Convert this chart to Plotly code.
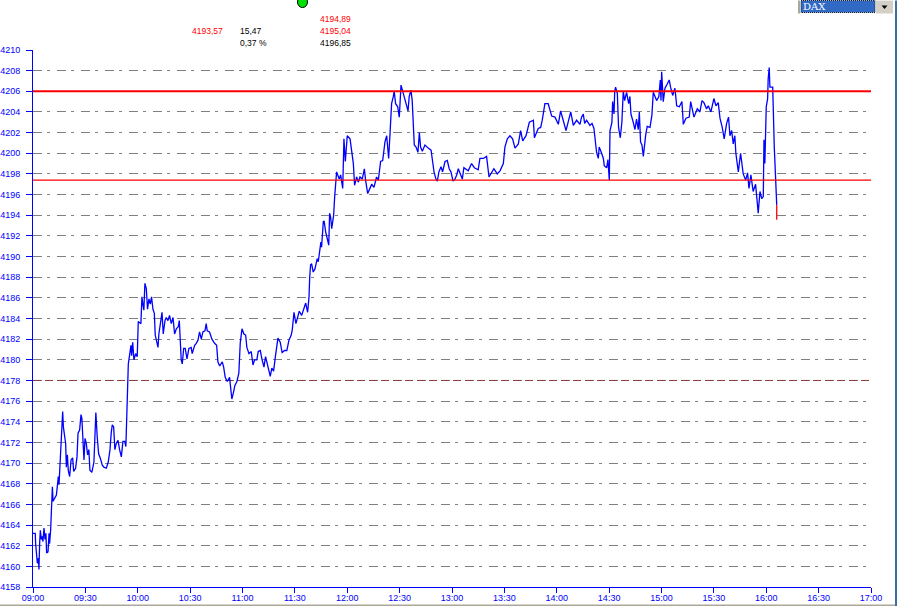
import plotly.graph_objects as go

# minutes after 09:00 and DAX level
minutes = [
    0, 1.3, 1.5, 1.9, 2.5, 3.1, 3.4, 3.8, 4.2, 4.8, 5.3, 5.7, 6.3, 6.9, 7.4, 7.8, 8.6, 9.2, 9.5, 10.1,
    10.5, 11.1, 11.5, 12.4, 13.4, 13.9, 14.5, 14.9, 15.5, 16.0, 16.6, 17.0, 17.4, 18, 18.7, 19.1, 19.7, 20.2, 21, 21.8,
    22.7, 23.3, 24.4, 25.2, 25.8, 26.7, 27.5, 28, 28.6, 29.2, 29.8, 30.5, 31.3, 32, 32.6, 33.7, 34.9, 35.4, 36, 36.8,
    37.6, 38.5, 39.7, 40.6, 42, 43.1, 44.1, 44.8, 45.4, 46.2, 46.9, 47.7, 48.7, 49.6, 50.6, 51.5, 52.5, 53.2, 53.6, 54.2,
    54.6, 55.2, 56.1, 56.5, 57.1, 57.8, 58.8, 59.7, 60.3, 61.8, 62.4, 63, 63.5, 64.1, 64.9, 65.6, 66.4, 67.2, 67.9, 68.7,
    69.5, 70, 70.8, 71.6, 72.1, 72.9, 73.9, 74.6, 75.6, 76.3, 77.3, 78.2, 79.2, 80.2, 81.1, 82.1, 83.2, 83.8, 84.4, 84.9,
    85.5, 86.3, 87.2, 88.2, 89.3, 90.6, 91.2, 92.6, 93.5, 94.5, 95.4, 96.4, 97.3, 98.5, 99.2, 99.8, 101.1, 102.5, 104, 105.2,
    105.9, 106.9, 108.4, 109.2, 110.1, 111.3, 112.6, 113.2, 113.9, 114.9, 115.6, 116.8, 117.9, 118.7, 119.7, 120.8, 121.8, 122.5, 123.7, 125,
    126, 126.9, 128.2, 129, 130.2, 131.1, 132.3, 133.2, 134.7, 135.9, 136.8, 137.8, 138.9, 140.3, 141.6, 142.7, 144.1, 145.4, 146.6, 147.9,
    148.5, 149.5, 150.6, 151.4, 152.5, 153.9, 155.4, 156.2, 157.3, 158.1, 158.5, 159, 159.6, 160.5, 161.5, 162.8, 163.4, 164.2, 164.9, 165.3,
    166.3, 166.8, 167.6, 168.6, 169.4, 169.9, 170.5, 171.1, 172.2, 172.8, 173.9, 175.4, 176.2, 177.4, 178.1, 178.9, 180, 181.6, 182.5, 183.5,
    184.2, 185.4, 186.3, 187.3, 188.6, 189.8, 190.5, 191.7, 193, 194, 195.3, 196.8, 197.8, 199.1, 200.3, 201.6, 202.6, 203.7, 204.5, 205.4,
    206.4, 206.9, 207.7, 208.9, 209.8, 210.8, 212.1, 213.5, 214.8, 215.5, 216.5, 217.2, 217.8, 218.4, 219.4, 220.5, 221.3, 222, 223, 224.5,
    226.4, 228, 228.9, 229.7, 230.8, 231.6, 232.5, 233.7, 234.6, 236, 237.3, 238.4, 239.4, 240.6, 241.7, 242.7, 243.6, 245.9, 246.8, 249.3,
    251.2, 252.8, 255, 256, 257.9, 259.8, 261.2, 262.7, 264, 265.9, 267.5, 269.4, 270.3, 271.7, 273.2, 274.7, 276.1, 278, 279.3, 280.5,
    282.4, 284.3, 286.6, 287.2, 289.4, 290.8, 291.7, 293.2, 295.1, 297.1, 299, 300.9, 302.2, 303.7, 305.3, 308, 309.5, 311.4, 313.3, 314.2,
    315.2, 316, 317.1, 319, 320.2, 321.3, 322.1, 322.8, 323.8, 324.3, 325.5, 326.7, 327.2, 328.6, 329.3, 330.1, 330.5, 331.6, 332, 332.8,
    333.2, 333.7, 334.7, 335.4, 336.4, 337.3, 338.1, 338.9, 340, 341.2, 341.9, 342.5, 343.5, 344.8, 345.7, 346.7, 347.3, 348, 348.8, 349.6,
    350.9, 351.8, 353.4, 354.5, 355.3, 356.1, 357.2, 358.5, 359.3, 359.7, 360.1, 361, 362, 363.3, 364.4, 365.2, 366.4, 367.7, 368.7, 370.2,
    371.7, 372.5, 374, 375.9, 376.7, 378.6, 380.5, 382, 383.2, 384.3, 385.8, 386.8, 388.3, 390, 391.2, 392.5, 393.5, 394.8, 395.9, 397.3,
    398.4, 399.2, 400.2, 401.1, 402, 402.6, 404, 405.3, 406.8, 408.2, 409.3, 410.1, 411.2, 412.5, 413.9, 415.4, 416.4, 417.4, 418.3, 418.7,
    419.2, 420, 420.8, 421.1, 421.7, 422.1, 423.7, 424.6, 425.4, 426,
]
prices = [
    4163.2, 4163.2, 4162.2, 4161.1, 4160.3, 4160.8, 4159.7, 4162.2, 4163.5, 4162.6, 4162.9, 4162.4, 4163.7, 4162.6, 4163.2, 4161.3, 4161.4, 4163.2, 4162.2, 4163.5,
    4166.1, 4167.7, 4166.3, 4166.6, 4166.9, 4167.7, 4168.7, 4167.9, 4169.8, 4171.1, 4174.2, 4175.0, 4173.5, 4172.9, 4171.9, 4169.6, 4170.8, 4169.3, 4168.7, 4170.3,
    4170.5, 4169.2, 4169.5, 4170.6, 4172.9, 4173.2, 4174.7, 4174.3, 4171.6, 4170.3, 4172.4, 4171.9, 4170.8, 4171.3, 4169.3, 4169.1, 4170.1, 4172.5, 4174.9, 4172.5,
    4170.9, 4170.5, 4169.8, 4169.6, 4169.5, 4170.1, 4171.3, 4172.9, 4173.7, 4173.5, 4171.3, 4171.9, 4172.2, 4171.3, 4170.6, 4172.1, 4172.1, 4171.6, 4174.5, 4176.2,
    4179.6, 4180.3, 4181.4, 4180.4, 4181.7, 4180.0, 4180.6, 4180.3, 4183.7, 4183.5, 4186.1, 4185.3, 4184.8, 4187.4, 4186.9, 4184.9, 4185.9, 4185.4, 4186.1, 4184.9,
    4184.5, 4182.4, 4181.6, 4181.2, 4182.5, 4183.5, 4184.6, 4182.5, 4183.8, 4184.1, 4183.8, 4184.3, 4183.5, 4184.1, 4182.5, 4183.0, 4183.2, 4183.8, 4181.9, 4180.0,
    4179.6, 4181.1, 4181.1, 4180.1, 4181.1, 4181.2, 4180.6, 4181.4, 4181.6, 4181.9, 4182.7, 4182.0, 4182.7, 4182.8, 4183.5, 4182.8, 4182.7, 4182.0, 4181.6, 4181.4,
    4179.8, 4179.4, 4179.8, 4179.3, 4178.3, 4177.9, 4178.3, 4177.1, 4176.2, 4176.9, 4177.5, 4177.9, 4178.7, 4181.6, 4183.0, 4182.5, 4182.4, 4181.2, 4180.6, 4180.8,
    4179.5, 4180.0, 4180.0, 4180.8, 4180.9, 4180.1, 4179.3, 4180.3, 4179.1, 4178.4, 4179.2, 4178.9, 4180.4, 4182.1, 4181.7, 4180.7, 4180.9, 4180.9, 4181.9, 4182.4,
    4182.9, 4184.6, 4183.5, 4184.0, 4184.7, 4184.3, 4185.1, 4185.5, 4184.6, 4186.1, 4188.0, 4189.2, 4189.3, 4188.5, 4188.8, 4189.8, 4189.5, 4190.8, 4191.4, 4190.9,
    4193.4, 4193.4, 4192.4, 4191.7, 4191.1, 4194.2, 4193.8, 4192.7, 4194.0, 4195.8, 4198.2, 4197.5, 4197.9, 4196.6, 4201.4, 4199.2, 4201.7, 4201.4, 4200.1, 4199.0,
    4196.9, 4197.7, 4197.2, 4197.7, 4197.5, 4198.5, 4197.4, 4196.1, 4196.6, 4197.0, 4196.7, 4197.7, 4197.4, 4199.2, 4199.3, 4201.1, 4201.7, 4199.5, 4201.9, 4204.8,
    4205.5, 4206.0, 4204.8, 4204.5, 4203.5, 4206.6, 4205.8, 4205.0, 4204.1, 4205.5, 4206.1, 4205.1, 4203.4, 4200.8, 4200.6, 4200.1, 4202.0, 4200.6, 4200.2, 4200.8,
    4200.5, 4200.3, 4199.2, 4198.2, 4197.5, 4197.3, 4198.2, 4198.7, 4198.2, 4199.2, 4199.3, 4198.5, 4198.2, 4197.3, 4197.5, 4197.9, 4198.5, 4197.5, 4198.6, 4198.3,
    4199.0, 4198.6, 4198.4, 4199.5, 4199.5, 4199.7, 4197.7, 4198.2, 4198.5, 4198.0, 4198.3, 4199.0, 4200.6, 4201.4, 4201.7, 4201.4, 4200.5, 4200.9, 4202.2, 4201.2,
    4201.7, 4203.0, 4203.2, 4201.5, 4202.4, 4202.5, 4203.2, 4204.8, 4204.8, 4203.6, 4203.5, 4202.8, 4204.1, 4203.2, 4202.2, 4204.0, 4202.7, 4203.2, 4202.8, 4203.5,
    4203.8, 4202.9, 4203.2, 4202.7, 4202.9, 4202.4, 4200.9, 4200.1, 4199.5, 4200.6, 4200.1, 4199.5, 4198.8, 4198.6, 4199.4, 4197.4, 4202.2, 4203.0, 4205.0, 4203.8,
    4206.0, 4206.4, 4205.8, 4202.5, 4201.5, 4203.0, 4206.0, 4205.1, 4205.9, 4204.8, 4205.5, 4203.8, 4203.2, 4202.3, 4203.3, 4202.3, 4204.0, 4201.1, 4200.8, 4199.7,
    4201.7, 4202.6, 4202.5, 4203.7, 4205.9, 4205.6, 4205.1, 4205.5, 4207.1, 4205.1, 4207.9, 4205.0, 4206.3, 4206.7, 4207.1, 4206.4, 4205.6, 4206.3, 4204.6, 4204.5,
    4205.0, 4202.8, 4203.4, 4203.5, 4205.0, 4203.5, 4204.3, 4204.0, 4205.1, 4204.9, 4204.3, 4204.6, 4204.0, 4205.3, 4204.6, 4204.9, 4203.4, 4202.5, 4201.4, 4202.9,
    4203.5, 4201.7, 4202.2, 4200.9, 4201.7, 4200.0, 4198.2, 4200.0, 4198.0, 4197.4, 4198.1, 4196.6, 4197.9, 4196.3, 4197.0, 4194.2, 4196.3, 4195.6, 4195.8, 4201.3,
    4199.0, 4204.5, 4205.3, 4207.2, 4208.3, 4206.4, 4206.4, 4200.6, 4196.9, 4195.0,
]
last_minutes = [426, 426]
last_prices = [4195.0, 4193.57]

upper_level = 4206
lower_level = 4197.4
mid_level = 4178
range_minutes = [0, 480]

y_ticks = list(range(4158, 4212, 2))
x_ticks = list(range(0, 510, 30))
x_labels = ["09:00", "09:30", "10:00", "10:30", "11:00", "11:30", "12:00", "12:30", "13:00",
            "13:30", "14:00", "14:30", "15:00", "15:30", "16:00", "16:30", "17:00"]

# plot area in window pixels
LEFT, RIGHT, TOP, BOTTOM = 33, 871, 49.5, 587


def px_x(x):
    return (x - LEFT) / (RIGHT - LEFT)


def px_y(y):
    return (BOTTOM - y) / (BOTTOM - TOP)


def box(x0, y0, x1, y1, fill, line=None, dash="solid"):
    return dict(type="rect", xref="paper", yref="paper", x0=px_x(x0), x1=px_x(x1), y0=px_y(y0), y1=px_y(y1),
                fillcolor=fill, line=dict(color=line or fill, width=1 if line else 0, dash=dash), layer="above")


def label(x, y, text, color):
    return dict(xref="paper", yref="paper", x=px_x(x), y=px_y(y), text=text, showarrow=False, xanchor="left",
                yanchor="middle", font=dict(family="Liberation Sans", size=8.5, color=color))


fig = go.Figure()
fig.add_trace(go.Scatter(x=range_minutes, y=[mid_level, mid_level], mode="lines",
                         line=dict(color="#8a3a3a", width=1, dash="8px,4px")))
fig.add_trace(go.Scatter(x=minutes, y=prices, mode="lines", line=dict(color="#0000ff", width=1.3)))
fig.add_trace(go.Scatter(x=last_minutes, y=last_prices, mode="lines", line=dict(color="#ff0000", width=1.3)))
fig.add_trace(go.Scatter(x=range_minutes, y=[upper_level, upper_level], mode="lines",
                         line=dict(color="#ff0000", width=2)))
fig.add_trace(go.Scatter(x=range_minutes, y=[lower_level, lower_level], mode="lines",
                         line=dict(color="#ff0000", width=1.2)))

shapes = [
    # window edges
    box(0, 604.5, 897, 606, "#aca899"),
    box(895, 0, 897, 606, "#3a6ea5"),
    # DAX selector
    box(798, 0, 800, 13, "#aca899"),
    box(801, 0, 875, 12, "#316ac5", line="#1a1a1a", dash="1px,1px"),
    box(876, 0, 893, 13, "#d4d0c8"),
    dict(type="path", xref="paper", yref="paper", layer="above", fillcolor="black", line=dict(width=0),
         path=f"M {px_x(881.5)} {px_y(5)} L {px_x(887.5)} {px_y(5)} L {px_x(884.5)} {px_y(8.5)} Z"),
    # status lamp
    dict(type="circle", xref="paper", yref="paper", layer="above", fillcolor="#00e000",
         line=dict(color="black", width=1), x0=px_x(297.5), x1=px_x(307.5), y0=px_y(-4), y1=px_y(7)),
]

annotations = [
    label(190, 30, "4193,57", "#ff0000"),
    label(238, 30, "15,47", "black"),
    label(238, 42, "0,37 %", "black"),
    label(318, 18, "4194,89", "#ff0000"),
    label(318, 30, "4195,04", "#ff0000"),
    label(318, 42, "4196,85", "black"),
    dict(xref="paper", yref="paper", x=px_x(801), y=px_y(6), text="DAX", showarrow=False, xanchor="left",
         yanchor="middle", font=dict(family="DejaVu Serif", size=10, color="white")),
]

fig.update_layout(
    width=897,
    height=606,
    margin=dict(l=LEFT, r=897 - RIGHT, t=TOP, b=606 - BOTTOM, pad=0, autoexpand=False),
    paper_bgcolor="white",
    plot_bgcolor="white",
    showlegend=False,
    shapes=shapes,
    annotations=annotations,
    font=dict(family="Liberation Sans", size=9, color="#0000ff"),
)
fig.update_xaxes(
    range=range_minutes,
    tickvals=x_ticks,
    ticktext=x_labels,
    ticks="outside",
    ticklen=5,
    tickcolor="#0000ff",
    showgrid=False,
    zeroline=False,
    showline=True,
    linecolor="#0000ff",
    linewidth=1,
    automargin=False,
    ticklabelstandoff=-3,
)
fig.update_yaxes(
    range=[4158, 4210],
    tickvals=y_ticks,
    ticks="outside",
    ticklen=6,
    tickcolor="#0000ff",
    tickformat="d",
    showgrid=True,
    gridcolor="#808080",
    gridwidth=1,
    griddash="9px,5px,3px,7px",
    zeroline=False,
    showline=True,
    linecolor="#0000ff",
    linewidth=1,
    automargin=False,
    ticklabelstandoff=4,
)

# the page's default body margin would push the figure off by 8px
fig.write_html("out.html", config={"displayModeBar": False},
               post_script="document.body.style.margin='0';document.body.style.overflow='hidden';")
